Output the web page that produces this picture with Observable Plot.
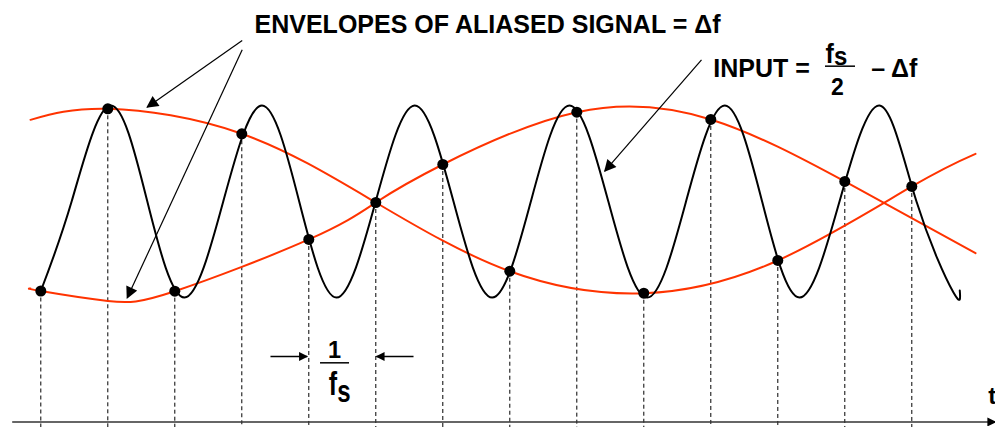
<!DOCTYPE html>
<html><head><meta charset="utf-8">
<script src="https://cdn.jsdelivr.net/npm/d3@7"></script>
<script src="https://cdn.jsdelivr.net/npm/@observablehq/plot@0.6"></script>
<style>html,body{margin:0;padding:0;background:#fff}svg{display:block}</style>
</head><body><div id="chart"></div>
<script>
// time in sample periods (1/fs), amplitude normalised
const sampleTimes  = [0, 1, 2, 3, 4, 5, 6, 7, 8, 9, 10, 11, 12, 13];
const sampleValues = [-0.922, 0.976, -0.924, 0.716, -0.385, 0, 0.396, -0.716, 0.941, -0.945, 0.865, -0.604, 0.219, 0.167];

// input signal: start, crossings, peaks and troughs
const inputTimes  = [0, 0.46, 1.034, 1.59, 2.145, 2.723, 3.301, 3.857, 4.413, 4.998, 5.582, 6.16, 6.737, 7.314, 7.891, 8.471, 9.051, 9.63, 10.209, 10.766, 11.324, 11.921, 12.518, 13.07, 13.622, 13.716];
const inputValues = [-0.922, 0.01, 1.01, 0.01, -0.99, 0.01, 1.01, 0.01, -0.99, 0.01, 1.01, 0.01, -0.99, 0.01, 1.01, 0.01, -0.99, 0.01, 1.01, 0.01, -0.99, 0.01, 1.01, 0.01, -0.938, -0.917];

// envelope falling from the left
const envFallTimes  = [-0.154, 1, 3, 5, 7, 9, 11, 13, 13.951];
const envFallValues = [0.861, 0.976, 0.716, 0, -0.716, -0.945, -0.604, 0.167, 0.507];

// envelope rising from the left
const envRiseTimes  = [-0.154, 0, 1, 2, 4, 5, 6, 8, 10, 12, 13.951];
const envRiseValues = [-0.896, -0.923, -1.026, -0.924, -0.385, 0, 0.396, 0.941, 0.865, 0.219, -0.528];

const titleLabel = "ENVELOPES OF ALIASED SIGNAL = \u0394f";
const inputLabel = "INPUT =";
const deltaLabel = "\u2013 \u0394f";
const axisLabel  = "t";

const ink = "#000";
const red = "#ff3300";
const font = "'Liberation Sans', Arial, Helvetica, sans-serif";

const toPts = (ts, vs) => ts.map((t, i) => ({t, a: vs[i]}));
const samples = toPts(sampleTimes, sampleValues);
const input = toPts(inputTimes, inputValues);
const envFall = toPts(envFallTimes, envFallValues);
const envRise = toPts(envRiseTimes, envRiseValues);

const txt = (s, x, y, o = {}) => Plot.text([s], {text: d => d, x, y, textAnchor: "start", lineAnchor: "bottom",
  fontFamily: font, fontWeight: "bold", fontSize: 25, fill: ink, ...o});

const bigArrows = [
  {x1: 3.006, y1: 1.6875, x2: 1.588, y2: 0.993},
  {x1: 3.006, y1: 1.591, x2: 1.29, y2: -0.993},
  {x1: 9.861, y1: 1.486, x2: 8.418, y2: 0.326}
];
const smallArrows = [
  {x1: 3.428, y1: -1.604, x2: 3.976, y2: -1.604},
  {x1: 5.563, y1: -1.604, x2: 5.01, y2: -1.604}
];

const plot = Plot.plot({
  width: 995, height: 428, margin: 0,
  style: {background: "#fff", overflow: "visible"},
  x: {domain: [-0.6015, 14.2493], axis: null},
  y: {domain: [-2.3542, 2.1042], axis: null},
  marks: [
    Plot.ruleX(samples, {x: "t", y1: "a", y2: -2.344, stroke: ink, strokeWidth: 1, strokeDasharray: "4,3"}),
    Plot.link([0], {x1: -0.427, x2: 14.2493, y1: -2.286, y2: -2.286, stroke: "#333", strokeWidth: 1.5, ariaDescription: "axis-arrow"}),
    Plot.line(envFall, {x: "t", y: "a", stroke: red, strokeWidth: 2, curve: "natural"}),
    Plot.line(envRise, {x: "t", y: "a", stroke: red, strokeWidth: 2, curve: "natural"}),
    Plot.line(input, {x: "t", y: "a", stroke: ink, strokeWidth: 2, curve: "natural"}),
    Plot.dot(samples, {x: "t", y: "a", r: 5.5, fill: ink}),
    Plot.link(bigArrows, {x1: "x1", y1: "y1", x2: "x2", y2: "y2", stroke: ink, strokeWidth: 1.2, ariaDescription: "big-arrow"}),
    Plot.link(smallArrows, {x1: "x1", y1: "y1", x2: "x2", y2: "y2", stroke: ink, strokeWidth: 1.5, ariaDescription: "small-arrow"}),
    // title
    txt(titleLabel, 3.19, 1.768),
    // INPUT = fs/2 - delta f
    txt(inputLabel, 10.036, 1.305),
    txt("f", 11.712, 1.452, {fontSize: 25, ariaDescription: "stretch:1.1"}),
    txt("s", 11.838, 1.43, {fontSize: 24, ariaDescription: "stretch:1.1"}),
    Plot.ruleY([1.42], {x1: 11.712, x2: 12.16, stroke: ink, strokeWidth: 1.5}),
    txt("2", 11.888, 1.122, {fontSize: 23, textAnchor: "middle"}),
    txt(deltaLabel, 12.394, 1.305),
    // 1 / fs
    txt("1", 4.384, -1.618, {fontSize: 23.5, textAnchor: "middle"}),
    Plot.ruleY([-1.67], {x1: 4.175, x2: 4.608, stroke: ink, strokeWidth: 1.5}),
    txt("f", 4.299, -2.01, {fontSize: 25, ariaDescription: "stretch:1.35"}),
    txt("s", 4.424, -2.078, {fontSize: 24, ariaDescription: "stretch:1.28"}),
    // axis label
    txt(axisLabel, 14.14, -2.094, {fontSize: 24})
  ]
});

const svg = d3.select(plot);

// tall, narrow letters of the f_s labels
svg.selectAll('g[aria-description^="stretch"]').each(function() {
  const k = +this.getAttribute("aria-description").split(":")[1];
  d3.select(this).selectAll("text").each(function() {
    const t = this.getAttribute("transform") || "";
    const x = +(this.getAttribute("x") || 0), y = +(this.getAttribute("y") || 0);
    this.removeAttribute("x"); this.removeAttribute("y");
    this.setAttribute("transform", `${t} translate(${x},${y}) scale(1,${k})`);
  });
});

// filled arrowheads
const defs = svg.insert("defs", ":first-child");
const mk = (id, w, h) => defs.append("marker").attr("id", id).attr("viewBox", "0 0 10 10")
  .attr("refX", 9).attr("refY", 5).attr("markerUnits", "userSpaceOnUse")
  .attr("markerWidth", w).attr("markerHeight", h).attr("orient", "auto")
  .append("path").attr("d", "M0,0L10,5L0,10Z").attr("fill", ink).attr("stroke", "none");
mk("ah-big", 14, 12);
mk("ah-small", 11, 9);
mk("ah-axis", 11, 9);
const setMarker = (desc, id, idx) => {
  let g = svg.selectAll(`g[aria-description="${desc}"]`);
  if (g.empty()) g = d3.select(svg.selectAll('g[aria-label="link"]').nodes()[idx]);
  g.selectAll("path, line").attr("marker-end", `url(#${id})`);
};
setMarker("axis-arrow", "ah-axis", 0);
setMarker("big-arrow", "ah-big", 1);
setMarker("small-arrow", "ah-small", 2);

document.getElementById("chart").appendChild(plot);
</script>
</body></html>
